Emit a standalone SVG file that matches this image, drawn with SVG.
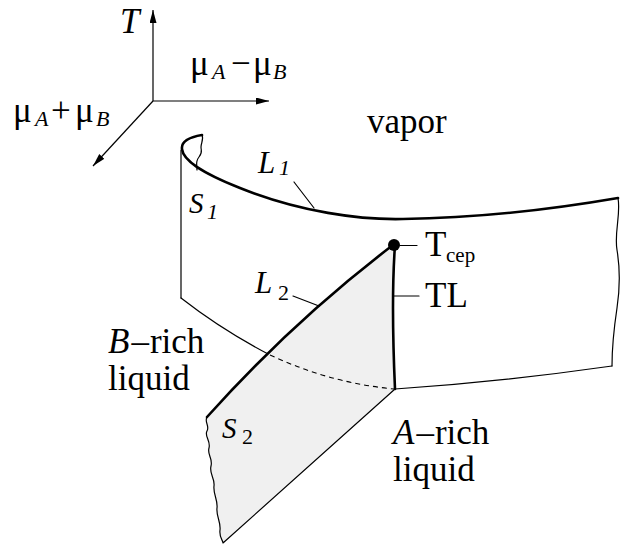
<svg xmlns="http://www.w3.org/2000/svg" width="624" height="546" viewBox="0 0 624 546">
<style>
  .thin{fill:none;stroke:#000;stroke-width:1.2;stroke-linejoin:round;stroke-linecap:round}
  .bold{fill:none;stroke:#000;stroke-width:2.6;stroke-linejoin:round;stroke-linecap:round}
  .dash{fill:none;stroke:#000;stroke-width:1.1;stroke-dasharray:5 4}
  .axis{fill:none;stroke:#000;stroke-width:1.2}
  .lbl text{font-family:'Liberation Serif','DejaVu Serif',serif;fill:#000}
  .big{font-size:35px}
  .it{font-style:italic}
  .sub{font-size:22px}
</style>
<defs>
  <marker id="arr" markerUnits="userSpaceOnUse" markerWidth="14" markerHeight="8" refX="13" refY="3.5" orient="auto">
    <path d="M0,0 L13,3.5 L0,7 z" fill="#000"/>
  </marker>
</defs>

<g id="connectors">
  <line class="axis" x1="153" y1="101" x2="153" y2="10" marker-end="url(#arr)"/>
  <line class="axis" x1="153" y1="101" x2="269" y2="101" marker-end="url(#arr)"/>
  <line class="axis" x1="153" y1="101" x2="93" y2="166" marker-end="url(#arr)"/>
</g>

<g id="surface-S1">
  <path class="thin" d="M181,150 L181,298"/>
  <path class="thin" d="M181,298 Q222,330 270,355"/>
  <path class="thin" d="M395,389 Q500,382 612,366"/>
  <path class="thin" d="M618,198 C621,215 614,232 617,250 S620,288 617,308 S612,345 612,366"/>
  <path class="thin" d="M202,135 C204,139 201,143 201,147 S203,152 199,157 S197,164 197,170"/>
  <path id="L1" class="bold" d="M202,135 C190,137 181,141 182,149 C183,160 200,172 240,188 C300,212 360,220 403,219 C480,218 560,208 618,198"/>
</g>

<g id="surface-S2">
  <path d="M393,245 Q292,322 207,417 C204,422 210,426 207,431 S211,441 209,448 S213,458 211,466 S215,478 214,486 S218,500 217,508 S221,522 220,530 S223,540 223,543 L395,389 Q391,300 395,245 Z" fill="#f0f0f0" stroke="none"/>
  <path class="thin" d="M207,417 C204,422 210,426 207,431 S211,441 209,448 S213,458 211,466 S215,478 214,486 S218,500 217,508 S221,522 220,530 S223,540 223,543 L395,389"/>
  <path class="dash" d="M270,355 Q330,383 394,389"/>
  <path id="L2" class="bold" d="M393,245 Q292,322 207,417"/>
  <path id="TL" class="bold" d="M395,245 Q391,300 395,389"/>
  <circle id="Tcep-point" cx="394" cy="245" r="6" fill="#000"/>
</g>

<g id="ticks">
  <line class="thin" x1="400" y1="245.5" x2="417" y2="245.5"/>
  <line class="thin" x1="394" y1="296" x2="419" y2="296"/>
  <line class="thin" x1="294" y1="182" x2="314" y2="208"/>
  <line class="thin" x1="293" y1="296" x2="319" y2="306"/>
</g>

<g id="labels" class="lbl" font-family="'Liberation Serif', 'DejaVu Serif', serif">
  <text class="big it" x="120" y="33">T</text>
  <text class="big" x="190" y="75">μ</text>
  <text class="sub it" x="212" y="79">A</text>
  <text class="big" x="231" y="75">−</text>
  <text class="big" x="253" y="75">μ</text>
  <text class="sub it" x="273" y="79">B</text>

  <text class="big" x="13" y="122">μ</text>
  <text class="sub it" x="35" y="126">A</text>
  <text class="big" x="51" y="122">+</text>
  <text class="big" x="75" y="122">μ</text>
  <text class="sub it" x="96" y="126">B</text>

  <text class="big" x="367" y="133">vapor</text>

  <text class="it" font-size="31" x="258" y="173">L</text>
  <text class="sub it" x="279" y="175">1</text>
  <text class="it" font-size="29" x="189" y="213">S</text>
  <text class="sub it" x="207" y="219">1</text>
  <text class="it" font-size="31" x="255" y="293">L</text>
  <text class="sub" x="278" y="300">2</text>
  <text class="it" font-size="29" x="222" y="438">S</text>
  <text class="sub" x="242" y="444">2</text>

  <text class="big" x="425" y="256">T</text>
  <text font-size="21" x="446" y="262">cep</text>
  <text class="big" x="425" y="307">TL</text>

  <text class="big" x="108" y="353"><tspan class="it">B</tspan><tspan dx="2">–</tspan><tspan dx="1">rich</tspan></text>
  <text class="big" x="108" y="390">liquid</text>
  <text class="big" x="393" y="444"><tspan class="it">A</tspan><tspan dx="2">–</tspan><tspan dx="1">rich</tspan></text>
  <text class="big" x="393" y="481">liquid</text>
</g>
</svg>
